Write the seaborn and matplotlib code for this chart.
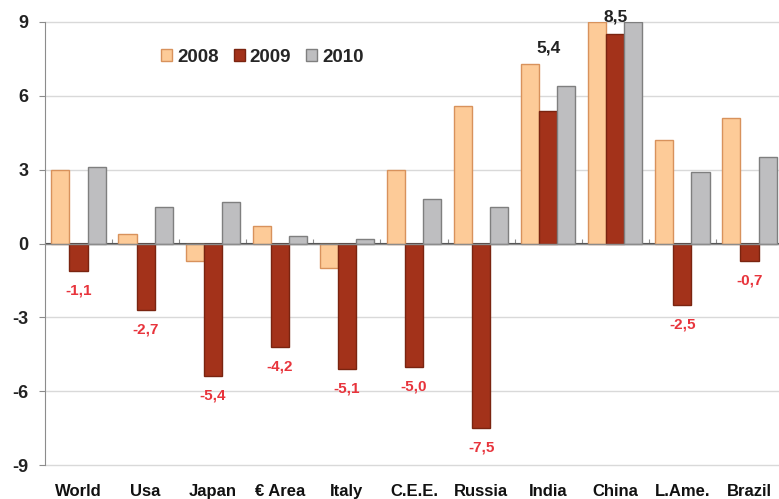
import matplotlib
matplotlib.use("Agg")
import matplotlib.pyplot as plt
import seaborn as sns
import pandas as pd
from matplotlib.patches import Patch
from matplotlib.transforms import blended_transform_factory

regions = ["World", "Usa", "Japan", "€ Area", "Italy", "C.E.E.", "Russia",
           "India", "China", "L.Ame.", "Brazil"]
years = ["2008", "2009", "2010"]
g2008 = [3.0, 0.4, -0.7, 0.7, -1.0, 3.0, 5.6, 7.3, 9.0, 4.2, 5.1]
g2009 = [-1.1, -2.7, -5.4, -4.2, -5.1, -5.0, -7.5, 5.4, 8.5, -2.5, -0.7]
g2010 = [3.1, 1.5, 1.7, 0.3, 0.2, 1.8, 1.5, 6.4, 9.0, 2.9, 3.5]
yticks = [-9, -6, -3, 0, 3, 6, 9]

fills = {"2008": "#FDCB98", "2009": "#A3321A", "2010": "#BEBEC0"}
edges = {"2008": "#D8925C", "2009": "#7A2410", "2010": "#7F7F7F"}

rows = []
for y, vals in zip(years, [g2008, g2009, g2010]):
    for r, v in zip(regions, vals):
        rows.append({"region": r, "year": y, "value": v})
df = pd.DataFrame(rows)

sns.set_style("white")
plt.rcParams["font.family"] = ["Liberation Sans", "DejaVu Sans"]

fig = plt.figure(figsize=(7.79, 4.99), dpi=100)
ax = fig.add_axes([45 / 779, 1 - 465 / 499, 738 / 779, (465 - 22) / 499])

sns.barplot(data=df, x="region", y="value", hue="year", order=regions,
            hue_order=years, palette=fills, width=0.81, ax=ax,
            legend=False, saturation=1, zorder=3)

for cont, y in zip(ax.containers, years):
    for p in cont:
        p.set_edgecolor(edges[y])
        p.set_linewidth(1.0)

ax.set_xlim(-0.5, 10.5)
ax.set_ylim(-9, 9)
ax.set_yticks(yticks)
ax.set_yticklabels([str(t) for t in yticks], fontsize=13, fontweight="bold",
                   color="#222222")
ax.grid(axis="y", color="#D9D9D9", linewidth=1.0, zorder=0)
for gl in ax.get_ygridlines():
    gl.set_clip_on(False)
ax.set_axisbelow(True)
for s in ["top", "right", "bottom"]:
    ax.spines[s].set_visible(False)
ax.spines["left"].set_color("#8C8C8C")
ax.tick_params(axis="y", direction="out", length=4, color="#8C8C8C",
               left=True, pad=8)
ax.set_xlabel("")
ax.set_ylabel("")
ax.set_xticks(range(len(regions)))
ax.set_xticklabels([])
ax.tick_params(axis="x", length=0)

# zero axis with group separators
ax.axhline(0, color="#8C8C8C", linewidth=1.0, zorder=4)
sec = ax.secondary_xaxis(0.5)
sec.set_xticks([i + 0.5 for i in range(len(regions) - 1)])
sec.set_xticklabels([])
sec.tick_params(axis="x", direction="out", length=3, color="#8C8C8C")
sec.spines["bottom"].set_visible(False)

# category labels
tr = blended_transform_factory(ax.transData, fig.transFigure)
for i, r in enumerate(regions):
    ax.text(i, 1 - 496 / 499, r, transform=tr, ha="center", va="baseline",
            fontsize=12, fontweight="bold", color="#111111")

# value labels on 2009
c2009 = ax.containers[1]
fmt = lambda v: f"{v:.1f}".replace(".", ",")
neg_labels = [fmt(v) if v < 0 else "" for v in g2009]
ax.bar_label(c2009, labels=neg_labels, padding=9, color="#E8343C",
             fontsize=11, fontweight="bold")
india = [fmt(v) if r == "India" else "" for r, v in zip(regions, g2009)]
ax.bar_label(c2009, labels=india, padding=40, color="#222222",
             fontsize=12.5, fontweight="bold")
china = [fmt(v) if r == "China" else "" for r, v in zip(regions, g2009)]
ax.bar_label(c2009, labels=china, padding=7, color="#222222",
             fontsize=12.5, fontweight="bold")

handles = [Patch(facecolor=fills[y], edgecolor=edges[y]) for y in years]
leg = ax.legend(handles, years, ncol=3, frameon=False, loc="center left",
                bbox_to_anchor=(161 / 779, 1 - 57 / 499),
                bbox_transform=fig.transFigure, borderaxespad=0, borderpad=0,
                handlelength=0.6, handleheight=0.6, handletextpad=0.25,
                columnspacing=0.8, prop={"size": 13.5, "weight": "bold"})

fig.savefig("out.png", dpi=100)
